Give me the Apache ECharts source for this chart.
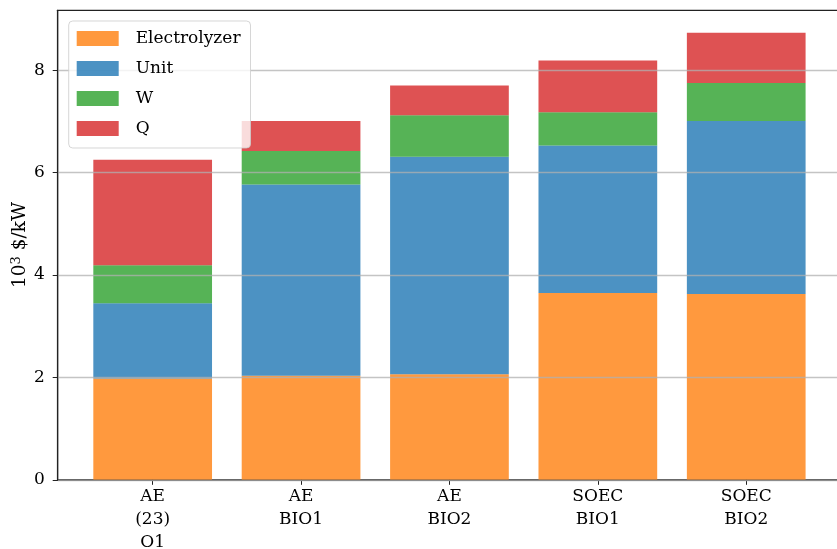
<!DOCTYPE html>
<html>
<head>
<meta charset="utf-8">
<script src="https://cdn.jsdelivr.net/npm/echarts@6/dist/echarts.min.js"></script>
<style>
  html, body { margin: 0; padding: 0; background: #fff; }
  #chart { width: 837px; height: 549px; }
</style>
</head>
<body>
<div id="chart"></div>
<script>
// Cost breakdown per configuration, in 10^3 $/kW
const categories = ['AE\n(23)\nO1', 'AE\nBIO1', 'AE\nBIO2', 'SOEC\nBIO1', 'SOEC\nBIO2'];
const electrolyzer = [1.98, 2.03, 2.06, 3.65, 3.63];
const unit = [1.47, 3.74, 4.25, 2.88, 3.38];
const w = [0.74, 0.65, 0.81, 0.65, 0.74];
const q = [2.06, 0.59, 0.58, 1.01, 0.98];
const yTicks = [0, 2, 4, 6, 8];

const FONT = 'DejaVu Serif';
const Y_MAX = 9.17;

const seriesDefs = [
  { name: 'Electrolyzer', data: electrolyzer, color: 'rgba(255,127,14,0.8)' },
  { name: 'Unit', data: unit, color: 'rgba(31,119,180,0.8)' },
  { name: 'W', data: w, color: 'rgba(44,160,44,0.8)' },
  { name: 'Q', data: q, color: 'rgba(214,39,40,0.8)' }
];

// Frame spans a little beyond the outer bars; bars sit in an inner grid
const FRAME_LEFT = 57.7, FRAME_W = 783.5, TOP = 10.3, H = 469.5;
const SPAN = 5.28;                       // data units across the frame
const BAND = FRAME_W / SPAN;             // one category band in px
const INNER_LEFT = FRAME_LEFT + 0.64 * BAND - BAND / 2;

const chart = echarts.init(document.getElementById('chart'), null, { renderer: 'canvas' });

chart.setOption({
  animation: false,
  backgroundColor: '#fff',
  grid: [
    {
      left: FRAME_LEFT, top: TOP, width: FRAME_W, height: H,
      show: true, borderColor: '#222', borderWidth: 1.2, backgroundColor: 'transparent',
      outerBoundsMode: 'none', containLabel: false
    },
    {
      left: INNER_LEFT, top: TOP, width: BAND * categories.length, height: H,
      outerBoundsMode: 'none', containLabel: false
    }
  ],
  legend: {
    orient: 'vertical',
    left: 68.7, top: 21,
    padding: [9, 10, 11, 8],
    itemWidth: 42, itemHeight: 15, itemGap: 13,
    icon: 'rect',
    backgroundColor: 'rgba(255,255,255,0.8)',
    borderColor: 'rgba(204,204,204,0.8)', borderWidth: 1, borderRadius: 4,
    textStyle: { fontFamily: FONT, fontSize: 17, color: '#000', padding: [0, 0, 0, 12] },
    data: seriesDefs.map(s => s.name),
    z: 10
  },
  xAxis: [
    {
      gridIndex: 0, type: 'value', min: 0, max: 1,
      axisLine: { show: true, onZero: false, lineStyle: { color: '#222', width: 1.2 } },
      axisTick: { show: false }, axisLabel: { show: false }, splitLine: { show: false }
    },
    {
      gridIndex: 1, type: 'category', data: categories,
      axisLine: { show: false },
      axisTick: { show: true, alignWithLabel: true, length: 5, lineStyle: { color: '#222', width: 1 } },
      axisLabel: { fontFamily: FONT, fontSize: 17, color: '#000', lineHeight: 23, margin: 5 },
      splitLine: { show: false }
    }
  ],
  yAxis: [
    {
      gridIndex: 0, type: 'value', min: 0, max: Y_MAX,
      z: 5,
      name: '{a|10}{s|3}{a| $/kW}',
      nameLocation: 'middle',
      nameGap: 28,
      nameRotate: 90,
      nameMoveOverlap: false,
      nameTextStyle: {
        rich: {
          a: { fontFamily: FONT, fontSize: 18.5, color: '#000' },
          s: { fontFamily: FONT, fontSize: 13, color: '#000', verticalAlign: 'top', padding: [0, 0, 7, 0] }
        }
      },
      axisLine: { show: true, onZero: false, lineStyle: { color: '#222', width: 1.2 } },
      axisTick: { show: true, customValues: yTicks, length: 5, lineStyle: { color: '#222', width: 1 } },
      axisLabel: { customValues: yTicks, fontFamily: FONT, fontSize: 17, color: '#000', margin: 13 },
      splitLine: { show: true, lineStyle: { color: 'rgba(176,176,176,0.75)', width: 1.3 } }
    },
    {
      gridIndex: 1, type: 'value', min: 0, max: Y_MAX,
      axisLine: { show: false }, axisTick: { show: false },
      axisLabel: { show: false }, splitLine: { show: false }
    }
  ],
  series: seriesDefs.map(s => ({
    name: s.name,
    type: 'bar',
    stack: 'total',
    xAxisIndex: 1,
    yAxisIndex: 1,
    barWidth: '80%',
    data: s.data,
    itemStyle: { color: s.color }
  }))
});
</script>
</body>
</html>
